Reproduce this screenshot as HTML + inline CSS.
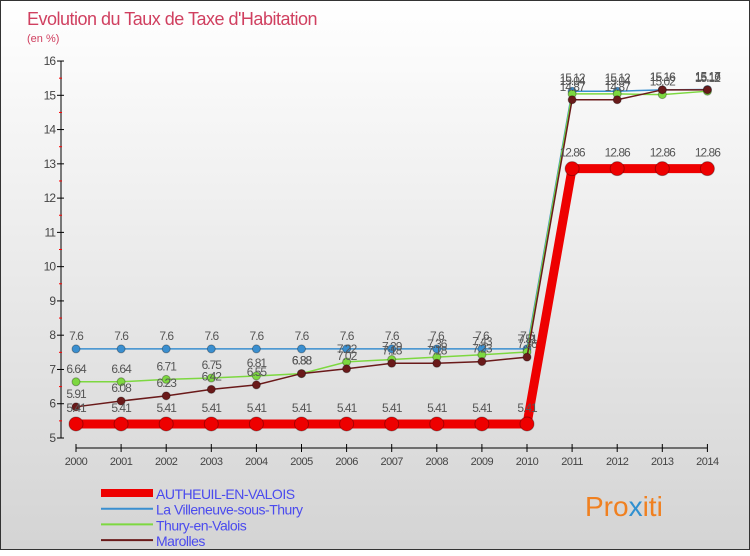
<!DOCTYPE html>
<html><head><meta charset="utf-8"><style>
body{margin:0;width:750px;height:550px;overflow:hidden;font-family:"Liberation Sans",sans-serif}
#wrap{position:absolute;left:0;top:0;width:748px;height:548px;border:1px solid #333;background:linear-gradient(#ffffff,#d4d4d4)}
</style></head><body>
<div id="wrap">
<svg id="chart" width="750" height="550" xmlns="http://www.w3.org/2000/svg">
<text x="26" y="24" font-size="18" fill="#d04060" letter-spacing="-0.5">Evolution du Taux de Taxe d'Habitation</text>
<text x="26" y="41" font-size="11" fill="#d04060">(en %)</text>
<g id="axes"></g>
<g id="series"></g>
<g id="legend"></g>
<text x="584" y="515" font-size="28" fill="#f08020">Pro<tspan fill="#3090d0">x</tspan>iti</text>
</svg>
</div>
<script>
const years=[2000,2001,2002,2003,2004,2005,2006,2007,2008,2009,2010,2011,2012,2013,2014];
const yTicks=[5,6,7,8,9,10,11,12,13,14,15,16];
const autheuil=[5.41,5.41,5.41,5.41,5.41,5.41,5.41,5.41,5.41,5.41,5.41,12.86,12.86,12.86,12.86];
const villeneuve=[7.6,7.6,7.6,7.6,7.6,7.6,7.6,7.6,7.6,7.6,7.6,15.12,15.12,15.16,15.17];
const thury=[6.64,6.64,6.71,6.75,6.81,6.88,7.22,7.29,7.36,7.43,7.51,15.04,15.04,15.02,15.12];
const marolles=[5.91,6.08,6.23,6.42,6.55,6.88,7.02,7.18,7.18,7.23,7.36,14.87,14.87,15.16,15.16];
const names=["AUTHEUIL-EN-VALOIS","La Villeneuve-sous-Thury","Thury-en-Valois","Marolles"];
const NS="http://www.w3.org/2000/svg";
const X=i=>75+i*45.1;
const Y=v=>437-(v-5)*34.27;
function el(t,a,p){const e=document.createElementNS(NS,t);for(const k in a)e.setAttribute(k,a[k]);p.appendChild(e);return e;}
const ax=document.getElementById('axes');
const yl=el('line',{x1:60,y1:60,x2:60,y2:437,stroke:'#000'},ax);


yTicks.forEach(v=>{
 el('line',{x1:56,x2:63,y1:Y(v),y2:Y(v),stroke:'#000'},ax);
 if(v<16)el('line',{x1:58,x2:61,y1:Y(v+0.5),y2:Y(v+0.5),stroke:'red'},ax);
 const t=el('text',{x:54,y:Y(v)+4,'font-size':12,fill:'#444','text-anchor':'end','letter-spacing':'-1'},ax);
 t.textContent=v;
 
 
});
const xl=el('line',{x1:X(0),y1:447,x2:X(14),y2:447,stroke:'#000'},ax);


years.forEach((y,i)=>{
 el('line',{x1:X(i),x2:X(i),y1:443,y2:451,stroke:'#000'},ax);
 const t=el('text',{x:X(i),y:464,'font-size':11,fill:'#444','text-anchor':'middle','letter-spacing':'-0.5'},ax);
 t.textContent=y;
 
 
});
const sg=document.getElementById('series');
function draw(data,color,w,r,nm){
 const g=el('g',{},sg);
 
 
 el('polyline',{points:data.map((v,i)=>X(i)+','+Y(v)).join(' '),fill:'none',stroke:color,'stroke-width':w},g);
 data.forEach((v,i)=>{
  const c=el('circle',{cx:X(i),cy:Y(v),r:r,fill:color,stroke:'rgba(0,0,0,0.3)'},g);
  
  
  const t=el('text',{x:X(i),y:Y(v)-r-5,'font-size':12,fill:'#555','text-anchor':'middle','letter-spacing':'-1'},g);
  t.textContent=v;
  
  
 });
}
draw(villeneuve,'#3a8fd0',1.5,4,'series-villeneuve');
draw(thury,'#7dd840',1.5,4,'series-thury');
draw(marolles,'#6a1a1a',1.5,4,'series-marolles');
draw(autheuil,'#ee0000',9,7,'series-autheuil');
const lg=document.getElementById('legend');
const lc=['#ee0000','#3a8fd0','#7dd840','#6a1a1a'],lw=[8,2,2,2];
names.forEach((n,i)=>{
 const g=el('g',{},lg);
 
 
 const y=492+i*15.7;
 el('line',{x1:100,x2:152,y1:y,y2:y,stroke:lc[i],'stroke-width':lw[i]},g);
 const t=el('text',{x:155,y:y+6,'font-size':14,fill:'#4a4aee','letter-spacing':'-0.5'},g);
 t.textContent=n;
});
</script>
</body></html>
